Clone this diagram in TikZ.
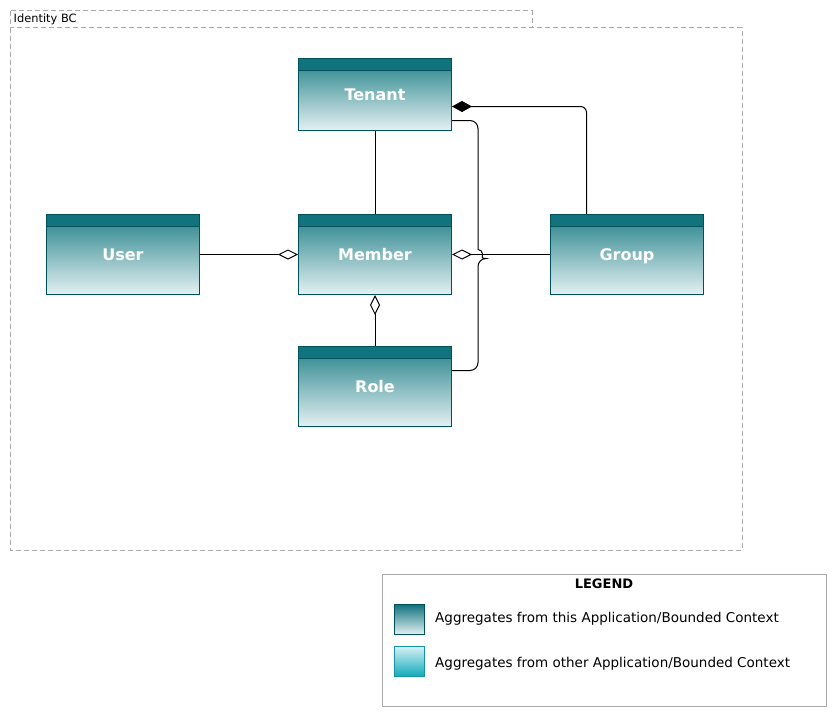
\documentclass[tikz,border=0pt]{standalone}
\usepackage{fontspec}
\setmainfont{DejaVu Sans}
\usetikzlibrary{arrows.meta}
\definecolor{hdr}{RGB}{16,115,125}
\definecolor{gtop}{RGB}{36,130,137}
\definecolor{gbot}{RGB}{228,241,243}
\definecolor{bdr}{RGB}{0,82,90}
\definecolor{ltop}{RGB}{214,240,244}
\definecolor{lbot}{RGB}{16,170,187}
\definecolor{lbdr}{RGB}{18,150,164}
\definecolor{frame}{RGB}{170,170,170}
\tikzset{
  aggbox/.style={draw=bdr, line width=1pt, top color=gtop, bottom color=gbot,
    minimum width=153pt, minimum height=80pt, inner sep=0pt, anchor=north west,
    text=white, font=\fontsize{16}{18}\selectfont\bfseries,
    text height=11.6pt, text depth=0pt,
    path picture={\fill[hdr] (path picture bounding box.north west) rectangle ([yshift=-12pt]path picture bounding box.north east);
      \draw[bdr, line width=1pt] ([yshift=-12pt]path picture bounding box.north west) -- ([yshift=-12pt]path picture bounding box.north east);}},
  conn/.style={line width=1pt, black},
  odia/.style={-{Diamond[open, fill=white, length=20pt, width=10pt]}},
  fdia/.style={{Diamond[length=20pt, width=11pt]}-},
  pkg/.style={draw=frame, line width=1pt, dash pattern=on 5pt off 3pt},
  lbl/.style={font=\fontsize{13.5}{15}\selectfont, anchor=west, inner sep=0pt},
}
\begin{document}
\begin{tikzpicture}[x=1pt, y=-1pt]
\useasboundingbox (0,0) rectangle (837,717);
% package frame
\draw[pkg] (10,11) rectangle (532,28);
\draw[pkg] (10,28) rectangle (742,550);
\node[anchor=west, inner sep=0pt, font=\fontsize{11.4}{13}\selectfont] (pkglabel) at (13.5,19.5) {Identity BC};
% boxes
\node[aggbox, minimum height=72pt] (tenant) at (298,58) {Tenant};
\node[aggbox] (member) at (298,214) {Member};
\node[aggbox] (user) at (46,214) {User};
\node[aggbox] (group) at (550,214) {Group};
\node[aggbox] (role) at (298,346) {Role};
% connectors
\draw[conn] (tenant.south) -- (member.north);
\draw[conn, odia] (user.east) -- (member.west);
\draw[conn, odia] (group.west) -- (member.east);
\draw[conn, odia] (role.north) -- (member.south);
\coordinate (gtop) at ([xshift=-40.5pt]group.north);
\draw[conn, fdia, rounded corners=6pt] ([yshift=-12pt]tenant.east) -| (gtop);
\coordinate (rr) at ([yshift=16pt]role.east);
\coordinate (tr) at ([yshift=-26pt]tenant.east);
\draw[conn, rounded corners=8pt] (rr) -| (478,258.5) [sharp corners] arc[start angle=90, end angle=-90, radius=4.5] [rounded corners=8pt] |- (tr);
% legend
\draw[draw=frame, line width=1pt] (382,574) rectangle (826,706);
\node[font=\fontsize{13}{15}\selectfont\bfseries, inner sep=0pt] (legtitle) at (604,584) {LEGEND};
\node[draw=bdr, line width=1pt, top color=hdr, bottom color=gbot, minimum width=30pt, minimum height=30pt, inner sep=0pt, anchor=north west] (sw1) at (394,604) {};
\node[draw=lbdr, line width=1pt, top color=ltop, bottom color=lbot, minimum width=30pt, minimum height=30pt, inner sep=0pt, anchor=north west] (sw2) at (394,646) {};
\node[lbl] (t1) at (435,619) {Aggregates from this Application/Bounded Context};
\node[lbl] (t2) at (435,664) {Aggregates from other Application/Bounded Context};
\end{tikzpicture}
\end{document}
